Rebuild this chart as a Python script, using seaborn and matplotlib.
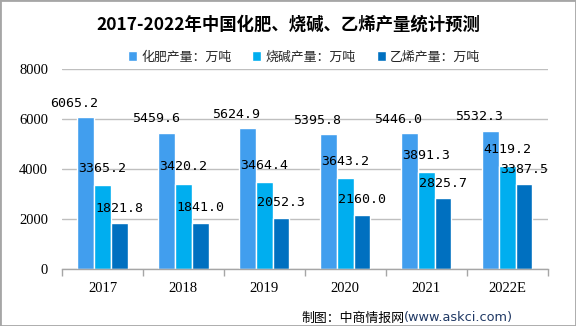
import matplotlib
matplotlib.use("Agg")
import matplotlib.pyplot as plt
from matplotlib.patches import Rectangle
from matplotlib.ticker import FixedLocator
import seaborn as sns
import pandas as pd

years = ["2017", "2018", "2019", "2020", "2021", "2022E"]
series_names = ["化肥产量：万吨", "烧碱产量：万吨", "乙烯产量：万吨"]
fertilizer = [6065.2, 5459.6, 5624.9, 5395.8, 5446.0, 5532.3]
caustic_soda = [3365.2, 3420.2, 3464.4, 3643.2, 3891.3, 4119.2]
ethylene = [1821.8, 1841.0, 2052.3, 2160.0, 2825.7, 3387.5]
colors = ["#419EEE", "#00AEEF", "#0070C0"]

df = pd.DataFrame({
    "year": years * 3,
    "series": [series_names[0]] * 6 + [series_names[1]] * 6 + [series_names[2]] * 6,
    "value": fertilizer + caustic_soda + ethylene,
})

sns.set_theme(style="white")
plt.rcParams["font.family"] = ["Noto Sans CJK SC", "DejaVu Sans"]

fig = plt.figure(figsize=(5.76, 3.26), dpi=100)
ax = fig.add_axes([0.1076, 0.1748, 0.8434, 0.6132])

sns.barplot(data=df, x="year", y="value", hue="series", hue_order=series_names,
            palette=colors, width=0.62, gap=0, saturation=1, ax=ax,
            errorbar=None, legend=True)

ax.set_ylim(0, 8000)
ax.set_xlim(-0.5, 5.5)
ax.set_yticks([0, 2000, 4000, 6000, 8000])
ax.set_xlabel("")
ax.set_ylabel("")
ax.yaxis.grid(True, color="#BFBFBF", linewidth=1)
ax.set_axisbelow(True)
for side in ["left", "right", "top"]:
    ax.spines[side].set_visible(False)
ax.spines["bottom"].set_color("#A6A6A6")
ax.spines["bottom"].set_linewidth(1)

# category boundaries carry the tick marks; labels sit at category centres
ax.xaxis.set_minor_locator(FixedLocator([i - 0.5 for i in range(7)]))
ax.tick_params(axis="x", which="minor", length=5, width=1, color="#A6A6A6",
               direction="out", bottom=True)
ax.tick_params(axis="x", which="major", length=0, pad=9)
ax.tick_params(axis="y", length=0, pad=10)
for lab in ax.get_xticklabels() + ax.get_yticklabels():
    lab.set_fontfamily("Liberation Serif")
    lab.set_fontsize(10.5)
    lab.set_color("#000000")

# value labels above each bar
offsets = [(-8, 10), (0, 12), (0, 11)]
for cont, (dx, dy) in zip(ax.containers, offsets):
    for rect in cont:
        h = rect.get_height()
        ax.annotate(f"{h:.1f}", xy=(rect.get_x() + rect.get_width() / 2, h),
                    xytext=(dx, dy), textcoords="offset points",
                    ha="center", va="center", fontsize=9.5,
                    fontfamily="DejaVu Sans Mono", color="#000000",
                    annotation_clip=False)

leg = ax.legend(loc="center", ncol=3, frameon=False, fontsize=9.3,
                handlelength=0.7, handleheight=0.7, handletextpad=0.35,
                columnspacing=1.6)
leg.set_bbox_to_anchor((304 / 576, 1 - 57 / 326), transform=fig.transFigure)

fig.text(0.5, 1 - 25 / 326, "2017-2022年中国化肥、烧碱、乙烯产量统计预测",
         ha="center", va="center", fontsize=12.5, fontweight="bold", color="#000000")

src = fig.text(301 / 576, 1 - 318 / 326, "制图：中商情报网", ha="left", va="center",
               fontsize=9.3, color="#000000")
ax.annotate("(www.askci.com)", xy=(1, 0.5), xycoords=src, ha="left", va="center",
            fontsize=9.3, color="#1F3864", fontfamily="DejaVu Sans",
            annotation_clip=False)

fig.patches.append(Rectangle((0, 0), 1, 1, transform=fig.transFigure, fill=False,
                             edgecolor="#A6A6A6", linewidth=2, zorder=10))

fig.savefig("out.png", dpi=100)
